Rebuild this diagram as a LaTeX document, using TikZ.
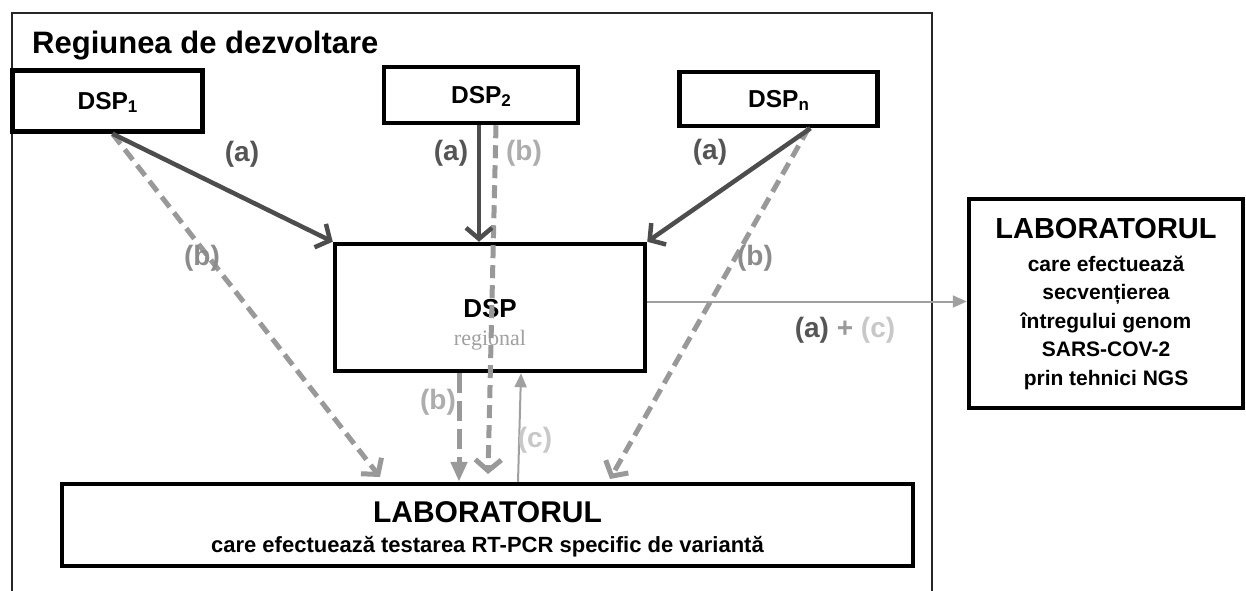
\documentclass[tikz,border=0pt]{standalone}
\usepackage{fontspec}
\setmainfont{Liberation Sans}
\newfontfamily\seriffam{Liberation Serif}
\usetikzlibrary{arrows.meta,calc}
\definecolor{darkarr}{HTML}{4D4D4D}
\definecolor{alab}{HTML}{555555}
\definecolor{dashgray}{HTML}{999999}
\definecolor{bmid}{HTML}{8C8C8C}
\definecolor{blight}{HTML}{ADADAD}
\definecolor{clight}{HTML}{C8C8C8}
\definecolor{thingray}{HTML}{A0A0A0}
\definecolor{plusgray}{HTML}{999999}
\newcommand{\mysub}[1]{\raisebox{-2.5pt}{\fontsize{17}{17}\selectfont #1}}
\begin{document}
\begin{tikzpicture}[x=1pt,y=-1pt,
  box/.style={draw=black, line width=4.5pt, rectangle, inner sep=0pt, text depth=0pt,
    font=\bfseries\fontsize{24.5}{28}\selectfont},
  txt/.style={inner sep=0pt, anchor=base, font=\bfseries\fontsize{21}{24}\selectfont},
  lbl/.style={inner sep=0pt, font=\bfseries\fontsize{28}{30}\selectfont},
  aarr/.style={draw=darkarr, line width=4.5pt, -{Straight Barb[length=11pt,width=26pt]}},
  barr/.style={draw=dashgray, line width=5pt, dash pattern=on 13pt off 7pt,
    -{Straight Barb[length=11pt,width=26pt]}},
  btri/.style={draw=dashgray, line width=5pt, dash pattern=on 20pt off 8pt,
    -{Triangle[length=20pt,width=16pt]}},
  thinarr/.style={draw=thingray, line width=2pt, -{Triangle[length=14pt,width=12pt]}}]
\useasboundingbox (0,0) rectangle (1246,590);
\fill[white] (0,0) rectangle (1246,590);
% outer frame
\draw[line width=1.2pt, draw=black!85] (12,600) -- (12,13) -- (932,13) -- (932,600);
\node[anchor=base west, inner sep=0pt, font=\bfseries\fontsize{31}{34}\selectfont] (title) at (32,53) {Regiunea de dezvoltare};
% boxes
\node[box, minimum width=190pt, minimum height=61pt] (dsp1) at (107.5,101) {DSP\mysub{1}};
\node[box, minimum width=194pt, minimum height=56pt] (dsp2) at (481,95) {DSP\mysub{2}};
\node[box, minimum width=198pt, minimum height=54pt] (dspn) at (778.5,99) {DSP\mysub{n}};
\node[box, minimum width=310pt, minimum height=127pt] (reg) at (490,307.5) {};
\node[inner sep=0pt, anchor=base, font=\bfseries\fontsize{26}{28}\selectfont] (regt) at (490,317) {DSP};
\node[inner sep=0pt, anchor=base, text=thingray, font=\seriffam\fontsize{22}{24}\selectfont] (regs) at (490,345) {regional};
\node[box, minimum width=851pt, minimum height=82pt] (lab) at (487.5,525) {};
\node[txt, font=\bfseries\fontsize{30}{32}\selectfont] (labA) at (487.5,522) {LABORATORUL};
\node[txt, font=\bfseries\fontsize{22}{24}\selectfont] (labB) at (487.5,552) {care efectuează testarea RT-PCR specific de variantă};
\node[box, minimum width=274pt, minimum height=209pt] (ngs) at (1106,303.5) {};
\node[txt, font=\bfseries\fontsize{29}{32}\selectfont] (ngs1) at (1106,238) {LABORATORUL};
\node[txt] (ngs2) at (1106,271) {care efectuează};
\node[txt] (ngs3) at (1106,299.5) {secvențierea};
\node[txt] (ngs4) at (1106,328) {întregului genom};
\node[txt] (ngs5) at (1106,356.5) {SARS-COV-2};
\node[txt] (ngs6) at (1106,385) {prin tehnici NGS};
% free ends on the lower lab
\coordinate (t1) at (380,477);
\coordinate (t2) at (488,474);
\coordinate (tn) at (610,479);
% (b) dashed arrows
\draw[barr] ([xshift=5pt]dsp1.south) -- (t1);
\draw[barr] ([xshift=15pt]dsp2.south) -- (t2);
\draw[barr] ([xshift=30pt]dspn.south) -- (tn);
\draw[btri] ([xshift=-31pt]reg.south) -- ([xshift=-31pt]reg.south |- lab.north);
% (a) arrows
\draw[aarr] ([xshift=5pt]dsp1.south) -- (reg.north west);
\draw[aarr] ([xshift=-2pt]dsp2.south) -- ([xshift=-2pt]dsp2.south |- reg.north);
\draw[aarr] ([xshift=32pt]dspn.south) -- (reg.north east);
% thin arrows
\draw[thinarr] ([xshift=30.5pt]lab.north) -- ([xshift=31pt]reg.south);
\draw[thinarr] ([yshift=6pt]reg.east) -- ([yshift=6pt]reg.east -| ngs.west);
% labels
\node[lbl, text=alab] (la1) at (242,154) {(a)};
\node[lbl, text=alab] (la2) at (451,153) {(a)};
\node[lbl, text=blight] (lb2) at (524,153) {(b)};
\node[lbl, text=alab] (lan) at (710,152) {(a)};
\node[lbl, text=bmid] (lb1) at (202,258) {(b)};
\node[lbl, text=bmid] (lbn) at (755,258) {(b)};
\node[lbl, text=blight] (lb3) at (438,402) {(b)};
\node[lbl, text=clight] (lc) at (535,440) {(c)};
\node[lbl] (lac) at (845,330) {\textcolor{alab}{(a)} \textcolor{plusgray}{+} \textcolor{clight}{(c)}};
\end{tikzpicture}
\end{document}
